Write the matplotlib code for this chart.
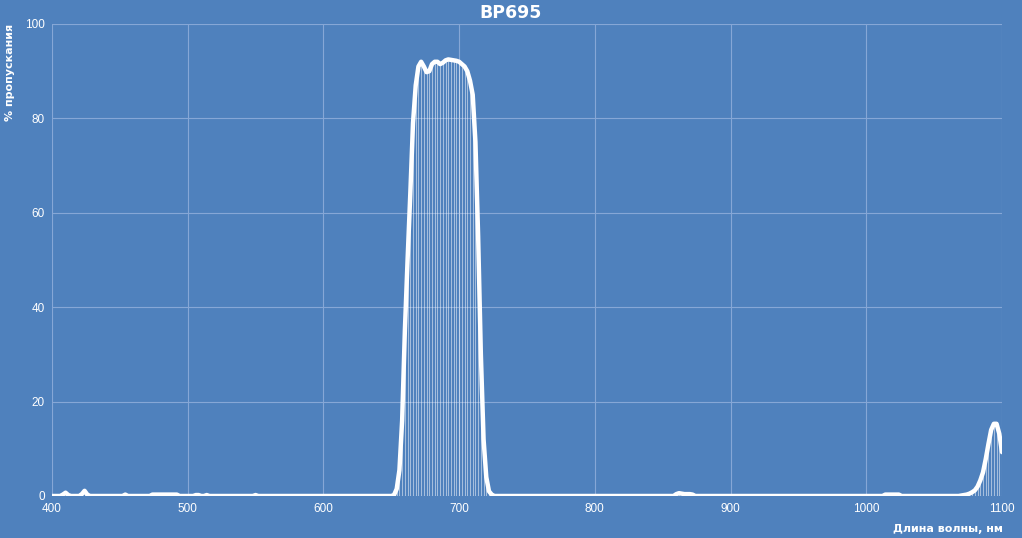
import numpy as np
import matplotlib
matplotlib.use("Agg")
import matplotlib.pyplot as plt

# ===== Data (2 nm step) =====
wavelength = np.arange(400, 1102, 2)

# pass band
band_nm = [652, 654, 656, 658, 660, 662, 664, 666, 668, 670, 672, 674, 676, 678,
           680, 682, 684, 686, 688, 690, 692, 694, 696, 698, 700, 702, 704, 706,
           708, 710, 712, 714, 716, 718, 720, 722, 724]
band_val = [0.2, 1.5, 5.5, 16, 35, 50, 64, 79, 87, 91, 92, 91, 89.8, 90,
            91.5, 92, 92, 91.5, 91.8, 92.3, 92.5, 92.4, 92.3, 92.2, 92, 91.5, 91, 90,
            88, 85, 75, 55, 30, 12, 4, 1, 0.3]

# IR leak near 1100
leak_nm = [1070, 1072, 1074, 1076, 1078, 1080, 1082, 1084, 1086, 1088, 1090,
           1092, 1094, 1096, 1098, 1100]
leak_val = [0.1, 0.2, 0.3, 0.5, 0.8, 1.2, 2, 3.3, 5, 7.8, 11,
            14, 15.3, 15.3, 13.2, 9.3]

# small bumps in the blocking range
bump_nm = [408, 410, 412, 422, 424, 426, 454, 474, 476, 478, 480, 482, 484, 486,
           488, 490, 492, 506, 508, 514, 550, 860, 862, 864, 866, 868, 870, 872,
           1014, 1016, 1018, 1020, 1022, 1024]
bump_val = [0.3, 0.7, 0.2, 0.4, 1.1, 0.3, 0.3, 0.3, 0.3, 0.3, 0.3, 0.3, 0.3, 0.3,
            0.3, 0.3, 0.3, 0.2, 0.2, 0.2, 0.2, 0.4, 0.6, 0.5, 0.4, 0.4, 0.4, 0.3,
            0.3, 0.3, 0.3, 0.3, 0.3, 0.3]

transmission = np.zeros(len(wavelength))
for nm, v in zip(band_nm + leak_nm + bump_nm, band_val + leak_val + bump_val):
    transmission[(nm - 400) // 2] = v

# ===== Plot =====
BG = "#4F81BD"
GRID = "#86A7D6"

fig = plt.figure(figsize=(10.22, 5.38), dpi=100, facecolor=BG)
ax = fig.add_axes([52 / 1022, 42 / 538, 950 / 1022, 472 / 538], facecolor=BG)

ax.vlines(wavelength, 0, transmission, color="white", lw=0.5, alpha=0.7)
ax.plot(wavelength, transmission, color="white", lw=3.2, solid_capstyle="round",
        solid_joinstyle="round")

ax.set_xlim(400, 1100)
ax.set_ylim(0, 100)
ax.set_xticks(range(400, 1101, 100))
ax.set_yticks(range(0, 101, 20))
ax.grid(True, color=GRID, lw=0.8)
ax.set_axisbelow(True)
for s in ax.spines.values():
    s.set_visible(False)
ax.tick_params(length=0, colors="white", labelsize=8.5, pad=5)
for lab in ax.get_xticklabels() + ax.get_yticklabels():
    lab.set_family("Liberation Sans")

fig.text(0.5, 1 - 13 / 538, "BP695", color="white", fontsize=12.5, fontweight="bold",
         ha="center", va="center", family="DejaVu Sans")
fig.text(1003 / 1022, 1 - 529 / 538, "Длина волны, нм", color="white", fontsize=8,
         fontweight="bold", ha="right", va="center", family="DejaVu Sans")
fig.text(10 / 1022, 1 - 24 / 538, "% пропускания", color="white", fontsize=8,
         fontweight="bold", rotation=90, ha="center", va="top", family="DejaVu Sans")

fig.savefig("out.png", dpi=100, facecolor=BG)
